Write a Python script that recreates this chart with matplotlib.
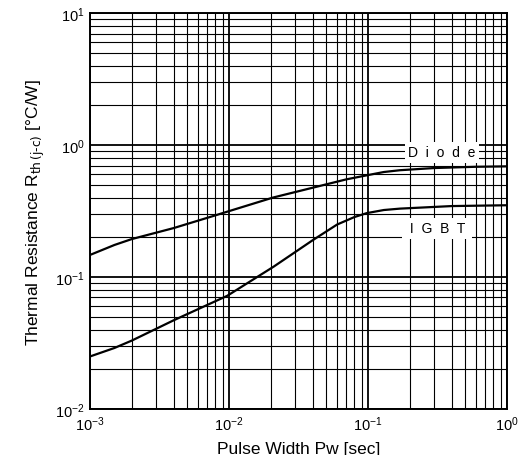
import matplotlib.pyplot as plt
from matplotlib.ticker import LogLocator, NullFormatter

plt.rcParams['font.family'] = ['Liberation Sans', 'DejaVu Sans']

# ---------- data ----------
diode_pw = [1e-3, 1.5e-3, 2e-3, 4e-3, 7.7e-3, 0.0207, 0.045, 0.07, 0.098, 0.13, 0.17, 0.3, 0.6, 1.0]
diode_rth = [0.147, 0.175, 0.194, 0.235, 0.29, 0.40, 0.49, 0.55, 0.59, 0.625, 0.645, 0.67, 0.685, 0.69]
igbt_pw = [1e-3, 1.5e-3, 2e-3, 4e-3, 0.0097, 0.021, 0.040, 0.06, 0.08, 0.098, 0.13, 0.17, 0.4, 1.0]
igbt_rth = [0.025, 0.029, 0.033, 0.047, 0.072, 0.12, 0.19, 0.25, 0.285, 0.305, 0.322, 0.33, 0.345, 0.35]

fig = plt.figure(figsize=(5.21, 4.56), dpi=100)
ax = fig.add_axes([0.1727, 0.1009, 0.8003, 0.8681])
ax.set_xscale('log'); ax.set_yscale('log')
ax.set_xlim(1e-3, 1e0); ax.set_ylim(1e-2, 1e1)

ax.xaxis.set_minor_locator(LogLocator(base=10, subs=range(2, 10)))
ax.yaxis.set_minor_locator(LogLocator(base=10, subs=range(2, 10)))
ax.xaxis.set_minor_formatter(NullFormatter()); ax.yaxis.set_minor_formatter(NullFormatter())
ax.grid(which='major', color='k', lw=1.3)
ax.grid(which='minor', color='k', lw=0.8)
ax.tick_params(which='both', length=0, labelsize=10.5, pad=4)
for s in ax.spines.values(): s.set_linewidth(1.4)

ax.plot(diode_pw, diode_rth, color='k', lw=1.6)
ax.plot(igbt_pw, igbt_rth, color='k', lw=1.6)

box = dict(facecolor='white', edgecolor='none', pad=2.5)
ax.text(0.34, 0.885, 'D  i  o  d  e', fontsize=10, ha='center', va='center', bbox=box, zorder=5)
ax.text(0.315, 0.235, ' I  G  B  T ', fontsize=10, ha='center', va='center', bbox=box, zorder=5)

ax.set_xlabel('Pulse Width Pw [sec]', fontsize=12.5, labelpad=6)
ax.set_ylabel('Thermal Resistance R$_{\\rm th\\,(j\\text{-}c)}$ [°C/W]', fontsize=12.5, labelpad=6)

fig.savefig('out.png', dpi=100)
